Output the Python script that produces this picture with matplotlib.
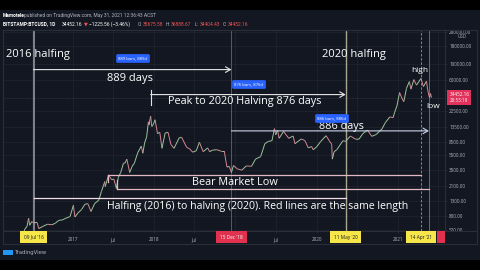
import numpy as np
import matplotlib
matplotlib.use("Agg")
import matplotlib.pyplot as plt
import matplotlib.dates as mdates
from matplotlib.collections import LineCollection
from matplotlib.lines import Line2D
from matplotlib.patches import Rectangle

plt.rcParams['font.family'] = ['Open Sans', 'DejaVu Sans']

# BTC/USD (Bitstamp) close
dates = ["2016-02-23", "2016-03-15", "2016-04-10", "2016-05-01", "2016-05-20", "2016-06-01",
         "2016-06-10", "2016-06-17", "2016-06-22", "2016-07-01", "2016-07-09", "2016-07-25",
         "2016-08-02", "2016-08-20", "2016-09-10", "2016-09-30", "2016-10-15", "2016-10-30",
         "2016-11-15", "2016-12-01", "2016-12-20", "2017-01-04", "2017-01-11", "2017-01-25",
         "2017-02-10", "2017-02-25", "2017-03-10", "2017-03-24", "2017-04-10", "2017-04-28",
         "2017-05-10", "2017-05-25", "2017-05-27", "2017-06-11", "2017-06-25", "2017-07-05",
         "2017-07-16", "2017-07-25", "2017-08-05", "2017-08-17", "2017-08-25", "2017-09-01",
         "2017-09-14", "2017-09-25", "2017-10-05", "2017-10-20", "2017-11-05", "2017-11-12",
         "2017-11-20", "2017-11-29", "2017-12-07", "2017-12-10", "2017-12-17", "2017-12-22",
         "2017-12-28", "2018-01-06", "2018-01-17", "2018-01-27", "2018-02-06", "2018-02-20",
         "2018-03-05", "2018-03-18", "2018-04-01", "2018-04-24", "2018-05-05", "2018-05-28",
         "2018-06-10", "2018-06-24", "2018-07-10", "2018-07-24", "2018-08-10", "2018-08-30",
         "2018-09-08", "2018-09-20", "2018-10-10", "2018-10-30", "2018-11-13", "2018-11-20",
         "2018-11-25", "2018-12-05", "2018-12-15", "2018-12-24", "2019-01-10", "2019-01-30",
         "2019-02-20", "2019-03-15", "2019-04-02", "2019-04-25", "2019-05-14", "2019-05-30",
         "2019-06-15", "2019-06-26", "2019-07-02", "2019-07-10", "2019-07-17", "2019-08-06",
         "2019-08-29", "2019-09-18", "2019-09-26", "2019-10-10", "2019-10-25", "2019-11-10",
         "2019-11-25", "2019-12-10", "2019-12-17", "2020-01-01", "2020-01-20", "2020-02-13",
         "2020-03-01", "2020-03-09", "2020-03-12", "2020-03-20", "2020-04-01", "2020-04-29",
         "2020-05-11", "2020-06-01", "2020-06-25", "2020-07-10", "2020-07-27", "2020-08-17",
         "2020-09-05", "2020-09-25", "2020-10-21", "2020-11-05", "2020-11-25", "2020-12-10",
         "2020-12-16", "2020-12-27", "2021-01-08", "2021-01-22", "2021-01-27", "2021-02-08",
         "2021-02-21", "2021-02-28", "2021-03-13", "2021-03-25", "2021-04-14", "2021-04-25",
         "2021-05-09", "2021-05-12", "2021-05-19", "2021-05-23", "2021-05-27", "2021-05-31"]
closes = [420, 415, 420, 450, 440, 535,
          580, 750, 600, 675, 650, 655,
          540, 580, 620, 610, 640, 700,
          710, 750, 790, 1130, 780, 890,
          990, 1170, 1190, 930, 1200, 1330,
          1750, 2400, 2050, 2950, 2550, 2600,
          1930, 2750, 3220, 4300, 4350, 4900,
          3200, 3900, 4300, 6000, 7400, 5900,
          8200, 9900, 16000, 14500, 19200, 13800,
          14600, 17100, 11000, 11500, 6900, 11200,
          11500, 7800, 6900, 9600, 9800, 7100,
          6800, 6100, 6400, 8400, 6200, 7000,
          6200, 6500, 6600, 6300, 6300, 4600,
          3800, 3900, 3200, 4000, 3600, 3450,
          3950, 3900, 4900, 5300, 8000, 8600,
          8800, 12900, 10600, 12300, 9500, 11800,
          9500, 10200, 8000, 8600, 9300, 8800,
          7000, 7300, 6600, 7200, 8600, 10300,
          8500, 7900, 4900, 6200, 6600, 8800,
          8600, 10200, 9200, 9250, 11000, 12300,
          10100, 10700, 12800, 15600, 18700, 18300,
          21300, 26500, 40500, 32000, 30400, 46400,
          57500, 45200, 61200, 51300, 63500, 49000,
          58200, 49500, 37000, 34700, 39400, 34450]

price_ticks = [520, 800, 1300, 2100, 3500, 5500, 8500, 13500, 22500, 60000, 100000, 180000, 280000]
time_ticks = ["2016-07-01", "2017-01-01", "2017-07-01", "2018-01-01", "2018-07-01", "2019-01-01",
              "2019-07-01", "2020-01-01", "2020-07-01", "2021-01-01", "2021-07-01"]
time_labels = ["", "2017", "Jul", "2018", "Jul", "", "Jul", "2020", "", "2021", ""]

halving_2016 = "2016-07-09"
peak_2017 = "2017-12-17"
bear_low = "2018-12-15"
halving_2020 = "2020-05-11"
high_2021 = "2021-04-14"
end_886 = "2021-05-20"
last_price = 34452.16

BG = "#131722"
FRAME = "#2a2e39"
TXT = "#b2b5be"
ANN = "#e6e6e6"


def d(s):
    return mdates.datestr2num(s)


def fpx(x, y):
    return x / 480, 1 - y / 270


fig = plt.figure(figsize=(4.8, 2.7), dpi=100, facecolor="black")
fig.add_artist(Rectangle(fpx(0, 260), 1, 250 / 270, transform=fig.transFigure, fc=BG, ec="none", zorder=0))

L, R, T, B = 3, 445, 29.5, 231
ax = fig.add_axes([L / 480, 1 - B / 270, (R - L) / 480, (B - T) / 270])
ax.set_facecolor(BG)
ax.set_yscale("log")
ax.set_ylim(500, 300000)
ax.set_xlim(d("2016-02-23"), d("2021-07-31"))

ax.set_yticks(price_ticks)
ax.set_yticklabels([f"{v:.2f}" for v in price_ticks])
ax.yaxis.set_minor_locator(matplotlib.ticker.NullLocator())
ax.yaxis.tick_right()
ax.set_xticks([d(t) for t in time_ticks])
ax.set_xticklabels(time_labels)
ax.tick_params(axis="both", colors=FRAME, labelcolor=TXT, labelsize=3.3, length=1.5, width=0.5, pad=1.5)
ax.tick_params(axis="x", pad=3)
ax.grid(True, color="#1e222d", lw=0.6)
ax.set_axisbelow(True)
for s in ax.spines.values():
    s.set_color(FRAME)
    s.set_linewidth(0.8)

# price as up/down coloured path
x = np.array([d(s) for s in dates])
y = np.array(closes, dtype=float)
segs = np.stack([np.column_stack([x[:-1], y[:-1]]), np.column_stack([x[1:], y[1:]])], axis=1)
cols = ["#9cc39a" if b >= a else "#d68593" for a, b in zip(y[:-1], y[1:])]
ax.add_collection(LineCollection(segs, colors=cols, linewidths=0.7, zorder=3))

# current price line
ax.axhline(last_price, color="#5d606b", lw=0.4, ls=(0, (1, 2)), zorder=1)

# vertical event lines
ax.axvline(d(halving_2016), color="#8a8c94", lw=1.3, zorder=2)
ax.axvline(d(bear_low), color="#a3475a", lw=0.6, zorder=2)
ax.axvline(d(halving_2020), color="#a9a68f", lw=1.0, zorder=2)
ax.axvline(d(high_2021), color="#9598a1", lw=0.6, ls=(0, (3, 2)), zorder=2)
ax.axvline(d(end_886), color="#b04a5c", lw=0.7, zorder=2)

# arrows
arr = dict(arrowstyle="->,head_length=0.35,head_width=0.2", lw=0.8, shrinkA=0, shrinkB=0)
ax.annotate("", xy=(d(bear_low), 84000), xytext=(d(halving_2016), 84000),
            arrowprops=dict(arr, color=ANN), zorder=4)
ax.annotate("", xy=(d(halving_2020), 38000), xytext=(d(peak_2017), 38000),
            arrowprops=dict(arr, color=ANN), zorder=4)
ax.plot([d(peak_2017)] * 2, [27000, 44600], color=ANN, lw=0.8, zorder=4)
ax.annotate("", xy=(d(end_886), 12000), xytext=(d(bear_low), 12000),
            arrowprops=dict(arr, color="#c9d6ea"), zorder=4)

# horizontal "same length" lines
ax.plot([d("2017-06-08"), d(high_2021)], [2950, 2950], color="#e3b8c3", lw=0.9, zorder=4)
ax.plot([d("2017-06-08")] * 2, [2950, 2350], color="#e3b8c3", lw=0.9, zorder=4)
ax.plot([d("2017-07-19"), d(end_886)], [1900, 1900], color="#e3b8c3", lw=0.9, zorder=4)
ax.plot([d("2017-07-19")] * 2, [1900, 2500], color="#e3b8c3", lw=0.9, zorder=4)
ax.plot([d(halving_2016), d(halving_2020)], [1420, 1420], color="#f0dde2", lw=0.9, zorder=4)


def atext(px, py, s, **kw):
    kw.setdefault("fontsize", 7.8)
    kw.setdefault("color", "white")
    kw.setdefault("va", "center")
    ax.text((px - L) / (R - L), (B - py) / (B - T), s, transform=ax.transAxes, zorder=6, **kw)


atext(6, 55, "2016 halfing", ha="left", fontsize=8)
atext(130, 78, "889 days", ha="center", fontsize=8)
atext(245, 101.5, "Peak to 2020 Halving 876 days", ha="center")
atext(354, 54, "2020 halfing", ha="center", fontsize=8)
atext(420, 71, "high", ha="center", fontsize=6)
atext(341, 127, "886 days", ha="center")
atext(433, 106, "low", ha="center", fontsize=6)
atext(235, 182.5, "Bear Market Low", ha="center")
atext(258, 206.5, "Halfing (2016) to halving (2020). Red lines are the same length", ha="center",
      fontsize=7.6)

blue = dict(boxstyle="round,pad=0.55,rounding_size=0.35", fc="#2962ff", ec="none")
atext(133, 58.5, "889 bars, 889d", ha="center", fontsize=3.1, bbox=blue)
atext(249, 84.5, "876 bars, 876d", ha="center", fontsize=3.1, bbox=blue)
atext(332, 118.5, "886 bars, 886d", ha="center", fontsize=3.1, bbox=blue)

# red marker for the last bar, mostly hidden under the 14 Apr box
fig.add_artist(Rectangle(fpx(437, 242.5), 8 / 480, 11.5 / 270, transform=fig.transFigure,
                         fc="#e0324f", ec="none", zorder=3))


# date labels on the time axis
def date_box(ds, s, fc, tc):
    ax.text(d(ds), -0.03, s, transform=ax.get_xaxis_transform(), ha="center", va="center",
            fontsize=3.4, color=tc, clip_on=False, zorder=7,
            bbox=dict(boxstyle="square,pad=0.8", fc=fc, ec="none"))


date_box(halving_2016, "09 Jul '16", "#f7e64a", "#131722")
date_box(bear_low, "15 Dec '18", "#e0324f", "white")
date_box(halving_2020, "11 May '20", "#f7e64a", "#131722")
date_box(high_2021, "14 Apr '21", "#f7e64a", "#131722")

# price axis label for last price
ax.text(1.01, (np.log10(last_price) - np.log10(500)) / (np.log10(300000) - np.log10(500)),
        "34452.16\n20:53:19", transform=ax.transAxes, ha="left", va="center", fontsize=3.3,
        color="white", linespacing=1.2, clip_on=False, zorder=7,
        bbox=dict(boxstyle="square,pad=0.45", fc="#e0325a", ec="none"))
fig.text(*fpx(462, 37), "USD", fontsize=3.3, color=TXT, ha="center", va="center")

# frame outside the pane
for (x0, y0, x1, y1) in [(3, 244, 477, 244), (3, 29.5, 3, 244), (477, 29.5, 477, 244), (445, 231, 477, 231),
                         (3, 29.5, 477, 29.5)]:
    fig.add_artist(Line2D([x0 / 480, x1 / 480], [1 - y0 / 270, 1 - y1 / 270], color=FRAME, lw=0.8))

# header
hf = dict(fontsize=3.5, va="center", family=["Roboto", "DejaVu Sans"])
fig.text(*fpx(3, 15.7), "Mamotele", color="white", weight="bold", **hf)
fig.text(*fpx(24, 15.7), "published on TradingView.com, May 31, 2021 12:36:43 ACST", color=TXT, **hf)
fig.text(*fpx(3, 24), "BITSTAMP:BTCUSD, 1D", color="white", weight="bold", **hf)
fig.text(*fpx(62, 24), "34452.16", color="white", **hf)
fig.text(*fpx(84, 24), "▼", color="#ef5350", **hf)
fig.text(*fpx(89, 24), "\u22121225.56 (\u22123.46%)", color="white", **hf)
for px0, lab, val in [(138, "O:", "35675.58"), (166, "H:", "36888.67"),
                      (195, "L:", "34404.43"), (223, "C:", "34452.16")]:
    fig.text(*fpx(px0, 24), lab, color=TXT, **hf)
    fig.text(*fpx(px0 + 4.5, 24), val, color="#ef5350", **hf)

# TradingView mark
fig.add_artist(Rectangle(fpx(3, 255), 10 / 480, 5 / 270, transform=fig.transFigure,
                         fc="#2196f3", ec="none"))
fig.text(*fpx(15, 252.5), "TradingView", fontsize=3.8, color=TXT, va="center", family="DejaVu Sans")

fig.savefig("out.png", dpi=100, facecolor="black")
